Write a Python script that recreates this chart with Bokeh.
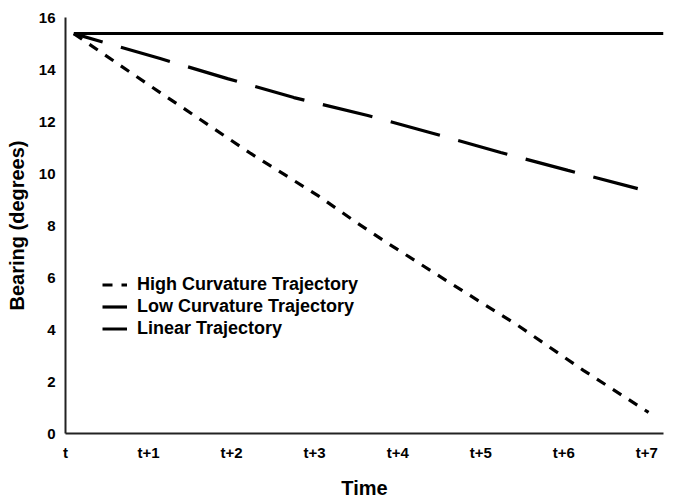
from bokeh.plotting import figure
from bokeh.models import Legend, LegendItem, FixedTicker, Range1d
from bokeh.embed import file_html
from bokeh.resources import INLINE

# Data
time_ticks = [0, 1, 2, 3, 4, 5, 6, 7]
time_labels = ["t", "t+1", "t+2", "t+3", "t+4", "t+5", "t+6", "t+7"]

high_x = [0.10, 0.96, 2.23, 3.04, 3.52, 3.83, 4.64, 5.45, 6.24, 7.02]
high_y = [15.38, 13.5, 10.77, 9.15, 8.08, 7.42, 5.77, 4.15, 2.42, 0.81]

low_x = [0.10, 1.14, 1.95, 2.75, 3.64, 4.43, 5.24, 6.05, 6.89]
low_y = [15.38, 14.42, 13.65, 12.92, 12.23, 11.54, 10.81, 10.12, 9.42]

lin_x = [0.10, 7.2]
lin_y = [15.38, 15.38]

y_ticks = [0, 2, 4, 6, 8, 10, 12, 14, 16]

FONT = "Liberation Sans"

p = figure(frame_width=598, frame_height=416, output_backend="svg", toolbar_location=None,
           x_range=Range1d(0, 7.2), y_range=Range1d(0, 16),
           min_border_left=65, min_border_right=10, min_border_top=17, min_border_bottom=60)
p.outline_line_color = None
p.xgrid.grid_line_color = None
p.ygrid.grid_line_color = None

r_high = p.line(high_x, high_y, line_color="black", line_width=3.2, line_dash="10 9")
r_low = p.line(low_x, low_y, line_color="black", line_width=3.2, line_dash="51 19",
               line_dash_offset=21)
r_lin = p.line(lin_x, lin_y, line_color="black", line_width=3)

p.xaxis.ticker = FixedTicker(ticks=time_ticks)
p.xaxis.major_label_overrides = {t: l for t, l in zip(time_ticks, time_labels)}
p.yaxis.ticker = FixedTicker(ticks=y_ticks)

for ax in (p.xaxis[0], p.yaxis[0]):
    ax.axis_line_color = "#222222"
    ax.axis_line_width = 2
    ax.major_tick_line_color = None
    ax.minor_tick_line_color = None
    ax.major_label_text_font = FONT
    ax.major_label_text_font_style = "bold"
    ax.major_label_text_font_size = "15px"
    ax.major_label_text_color = "black"
    ax.axis_label_text_font = FONT
    ax.axis_label_text_font_style = "bold"
    ax.axis_label_text_font_size = "20px"
    ax.axis_label_text_color = "black"

p.xaxis.axis_label = "Time"
p.yaxis.axis_label = "Bearing (degrees)"
p.xaxis.major_label_standoff = 4
p.xaxis.axis_label_standoff = 13
p.yaxis.major_label_standoff = 4
p.yaxis.axis_label_standoff = 8

legend = Legend(items=[
    LegendItem(label="High Curvature Trajectory", renderers=[r_high]),
    LegendItem(label="Low Curvature Trajectory", renderers=[r_low]),
    LegendItem(label="Linear Trajectory", renderers=[r_lin]),
], location=(37, 94))
legend.background_fill_alpha = 0
legend.border_line_color = None
legend.padding = 0
legend.margin = 0
legend.spacing = 1
legend.glyph_width = 25
legend.glyph_height = 21
legend.label_standoff = 10
legend.label_text_font = FONT
legend.label_text_font_style = "bold"
legend.label_text_font_size = "18px"
legend.label_text_color = "black"
p.add_layout(legend, "center")

open("out.html", "w").write(file_html(p, INLINE))
